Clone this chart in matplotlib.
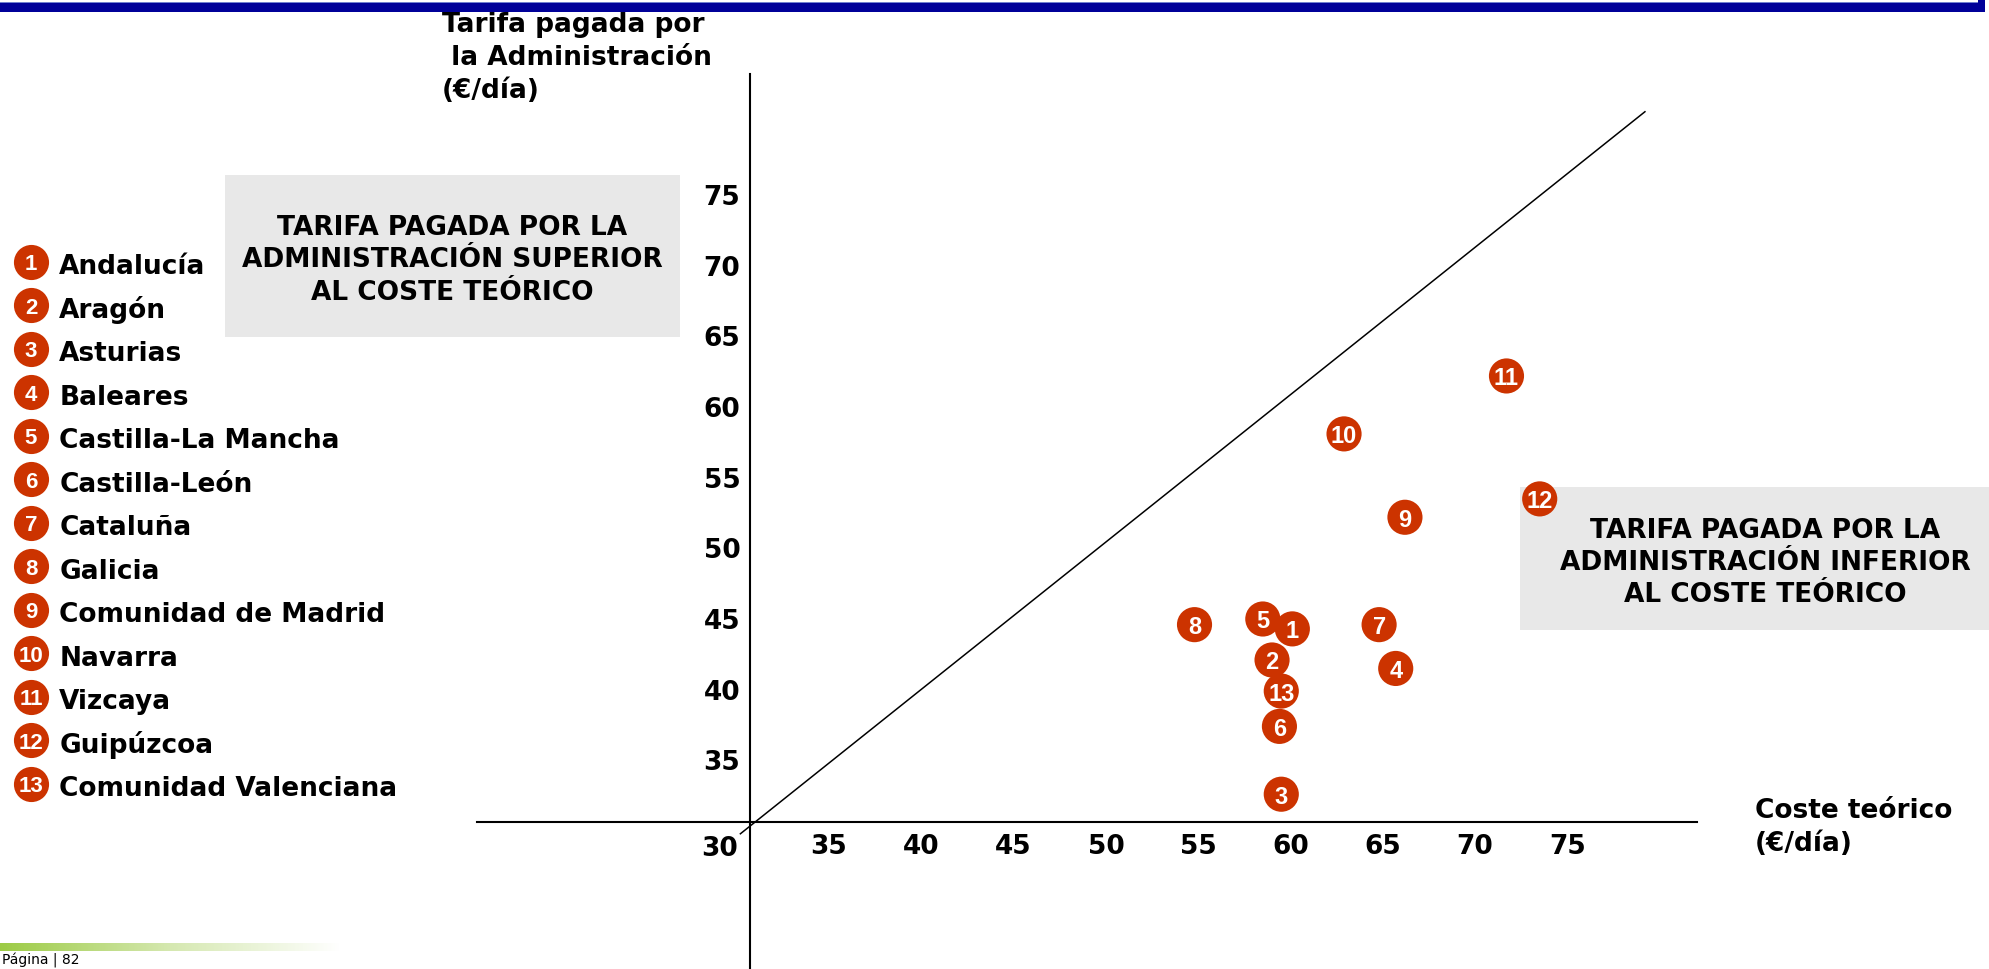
"""
Tarifa pagada por la Administración vs coste teórico por comunidad (€/día).
"""
import numpy as np
import matplotlib.pyplot as plt
from matplotlib.patches import Rectangle
from matplotlib.colors import LinearSegmentedColormap

# ---- data -------------------------------------------------------------
REGIONS = [
    "Andalucía", "Aragón", "Asturias", "Baleares", "Castilla-La Mancha",
    "Castilla-León", "Cataluña", "Galicia", "Comunidad de Madrid",
    "Navarra", "Vizcaya", "Guipúzcoa", "Comunidad Valenciana",
]
coste_teorico = [60.1, 59.0, 59.5, 65.7, 58.5, 59.4, 64.8, 54.8, 66.2, 62.9, 71.7, 73.5, 59.5]
tarifa_admin = [44.3, 42.1, 32.6, 41.5, 45.0, 37.4, 44.6, 44.6, 52.2, 58.1, 62.2, 53.5, 39.9]

X_TICKS = [35, 40, 45, 50, 55, 60, 65, 70, 75]
Y_TICKS = [35, 40, 45, 50, 55, 60, 65, 70, 75]
ORIGIN_LABEL = "30"

# parity line (tarifa = coste), as drawn on the slide
DIAG_X = [30.2, 79.2]
DIAG_Y = [29.8, 80.9]

# ---- style --------------------------------------------------------------
FS = 19
plt.rcParams.update({
    "font.family": ["DejaVu Sans"],
    "font.weight": "bold",
    "font.size": FS,
})
RED = "#CC3300"
BOX_GRAY = "#E8E8E8"
NAVY = "#000099"
NUM_FONT = ["Liberation Sans", "DejaVu Sans"]

W, H = 1990, 969


def fx(px):
    return px / W


def fy(py):
    return 1 - py / H


fig = plt.figure(figsize=(W / 100, H / 100), dpi=100)
ax = fig.add_axes([0, 0, 1, 1])

# pixel <-> data mapping of the slide's axes
X_PX_PER_UNIT, X_REF, X_REF_PX = 18.46, 55, 1198.2
Y_PX_PER_UNIT, Y_REF, Y_REF_PX = 14.13, 55, 477.7


def dx(px):
    return X_REF + (px - X_REF_PX) / X_PX_PER_UNIT


def dy(py):
    return Y_REF - (py - Y_REF_PX) / Y_PX_PER_UNIT


ax.set_xlim(dx(0), dx(W))
ax.set_ylim(dy(H), dy(0))
ax.set_facecolor("white")

AXIS_CROSS_X, AXIS_CROSS_Y = dx(750), dy(822)
for side in ("top", "right"):
    ax.spines[side].set_visible(False)
ax.spines["left"].set_position(("data", AXIS_CROSS_X))
ax.spines["left"].set_bounds(dy(H), dy(74))
ax.spines["bottom"].set_position(("data", AXIS_CROSS_Y))
ax.spines["bottom"].set_bounds(dx(477), dx(1697))
for side in ("left", "bottom"):
    ax.spines[side].set_linewidth(1.5)
    ax.spines[side].set_color("black")

ax.set_xticks(X_TICKS)
ax.set_xticklabels([str(t) for t in X_TICKS])
ax.set_yticks(Y_TICKS)
ax.set_yticklabels([str(t) for t in Y_TICKS])
ax.tick_params(axis="both", length=0, labelsize=FS)
ax.tick_params(axis="x", pad=9)
ax.tick_params(axis="y", pad=7)
for lab in ax.get_xticklabels() + ax.get_yticklabels():
    lab.set_fontweight("bold")

ax.annotate(ORIGIN_LABEL, (AXIS_CROSS_X, AXIS_CROSS_Y), xytext=(-30, -27),
            textcoords="offset pixels", ha="center", va="center",
            fontsize=FS, fontweight="bold")

# parity line
ax.plot(DIAG_X, DIAG_Y, color="black", lw=1.1, zorder=2)


def slide_rect(x0, y0, x1, y1, color, z=1):
    # rectangle given in slide pixels (top-left origin)
    ax.add_patch(Rectangle((fx(x0), fy(y1)), fx(x1) - fx(x0), fy(y0) - fy(y1),
                           transform=fig.transFigure, facecolor=color,
                           edgecolor="none", zorder=z, clip_on=False))


# shaded annotation boxes
slide_rect(225, 175, 680, 337, BOX_GRAY)
slide_rect(1520, 487, 1990, 630, BOX_GRAY)

upper_lines = ["TARIFA PAGADA POR LA", "ADMINISTRACIÓN SUPERIOR", "AL COSTE TEÓRICO"]
lower_lines = ["TARIFA PAGADA POR LA", "ADMINISTRACIÓN INFERIOR", "AL COSTE TEÓRICO"]
for i, line in enumerate(upper_lines):
    ax.text(fx(452.5), fy(235 + i * 32.5), line, ha="center", va="baseline",
            fontsize=FS, fontweight="bold", transform=fig.transFigure, zorder=3)
for i, line in enumerate(lower_lines):
    ax.text(fx(1765), fy(538.3 + i * 31.7), line, ha="center", va="baseline",
            fontsize=FS, fontweight="bold", transform=fig.transFigure, zorder=3)

# scatter points with numbers
ax.scatter(coste_teorico, tarifa_admin, s=640, color=RED, edgecolor="none", zorder=4)
for i, (x, y) in enumerate(zip(coste_teorico, tarifa_admin)):
    ax.annotate(str(i + 1), (x, y), xytext=(0, -3), textcoords="offset pixels",
                ha="center", va="center", color="white", fontsize=17,
                fontweight="bold", family=NUM_FONT, zorder=5)

# axis titles
y_title = ["Tarifa pagada por", " la Administración", "(€/día)"]
for i, line in enumerate(y_title):
    fig.text(fx(441.6), fy(32 + i * 33), line, ha="left", va="baseline",
             fontsize=FS, fontweight="bold")
x_title = ["Coste teórico", "(€/día)"]
for i, line in enumerate(x_title):
    fig.text(fx(1755), fy(818 + i * 33), line, ha="left", va="baseline",
             fontsize=FS, fontweight="bold")

# numbered legend
for i, name in enumerate(REGIONS):
    cy = 261.7 + i * 43.5
    ax.plot([fx(31)], [fy(cy)], marker="o", markersize=25.3, color=RED,
            markeredgewidth=0, transform=fig.transFigure, clip_on=False, zorder=4)
    ax.text(fx(31), fy(cy + 3), str(i + 1), ha="center", va="center",
            color="white", fontsize=16, fontweight="bold", family=NUM_FONT,
            transform=fig.transFigure, zorder=5)
    fig.text(fx(59.3), fy(cy + 12.6), name, ha="left", va="baseline",
             fontsize=FS, fontweight="bold")

# slide decoration: top bar and footer
slide_rect(0, 2, 1985, 12, NAVY)
slide_rect(1978, 0, 1985, 2, NAVY)
slide_rect(0, 2, 1978, 3, "#7080D0")

green = LinearSegmentedColormap.from_list("fade", ["#9CCB45", "#D5E8B0", "#FFFFFF"])
bar_ax = fig.add_axes([0, fy(951), fx(340), fy(943) - fy(951)])
bar_ax.imshow(np.linspace(0, 1, 256)[None, :], aspect="auto", cmap=green)
bar_ax.axis("off")

fig.text(fx(2), fy(968), "Página | 82", ha="left", va="bottom",
         fontsize=10, fontweight="normal")

fig.savefig("out.png", dpi=100, facecolor="white")
